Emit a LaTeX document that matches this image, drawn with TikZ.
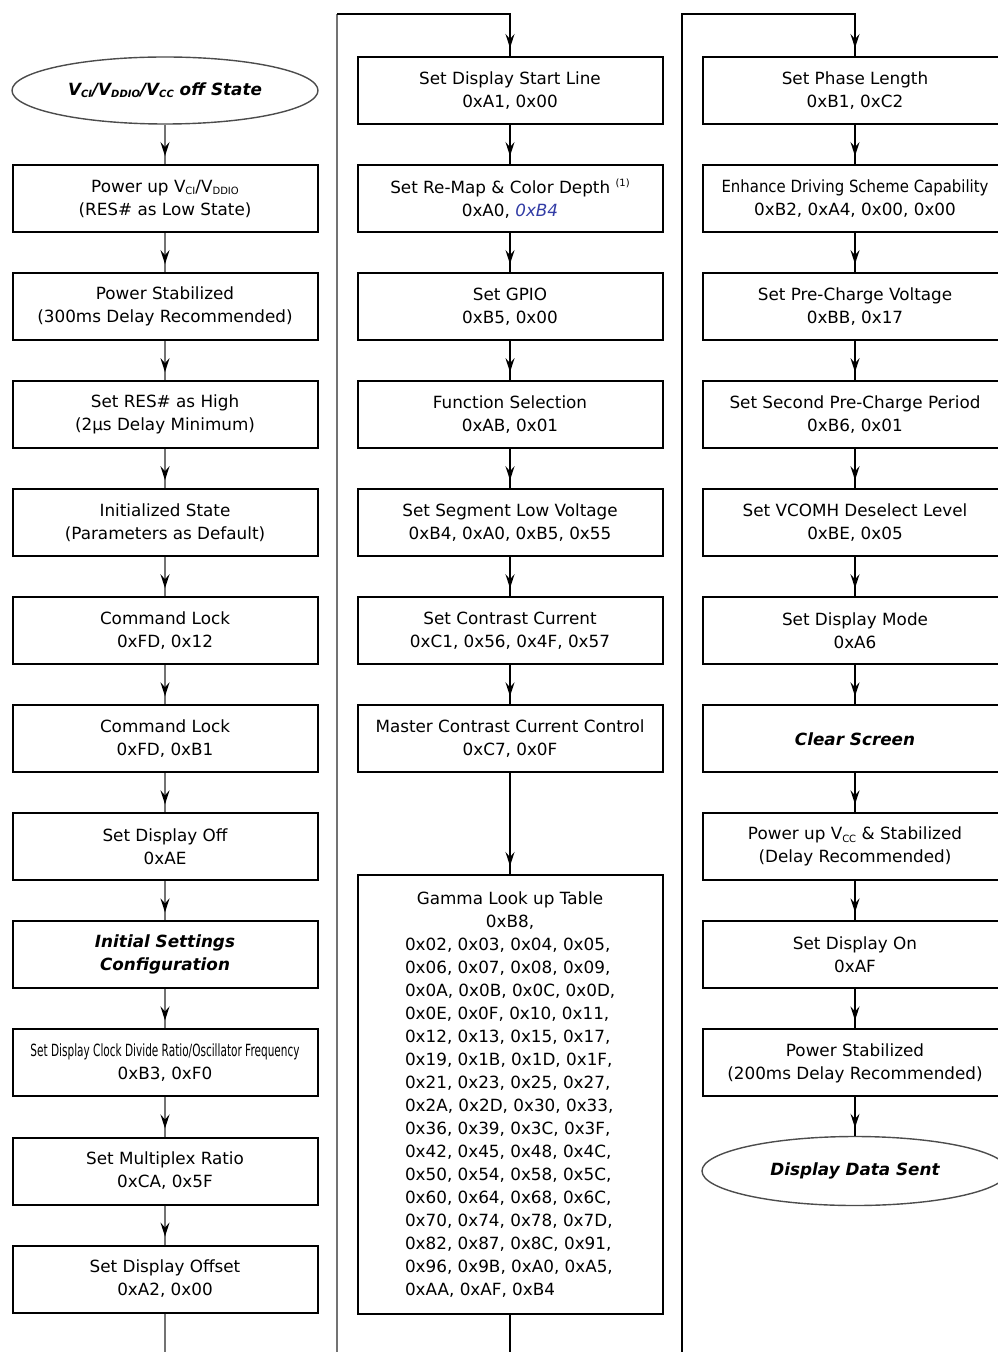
\documentclass[tikz,border=0pt]{standalone}
\usepackage{fontspec}
\setmainfont{DejaVu Sans}
\usepackage{graphicx}
\usetikzlibrary{shapes.geometric,arrows.meta,decorations.markings}
\definecolor{bleuremap}{RGB}{50,60,165}
% V avec indice minuscule
\newcommand{\vsb}[1]{V\raisebox{-0.25ex}{\fontsize{5}{5}\selectfont #1}}
% ligne de la table gamma, alignee a gauche
\newcommand{\gl}[1]{\makebox[105pt][l]{#1}}

\begin{document}
\begin{tikzpicture}[x=0.5pt,y=-0.5pt,
    blk/.style={draw,line width=1pt,minimum width=152.5pt,minimum height=33.5pt,
        inner sep=0pt,align=center,font=\fontsize{8.4}{11.5}\selectfont},
    blkgras/.style={blk,font=\fontsize{8.4}{11.5}\selectfont\bfseries\itshape},
    term/.style={draw=black!70,line width=0.7pt,ellipse,minimum width=153pt,
        minimum height=33.5pt,inner sep=0pt,font=\fontsize{8.4}{11.5}\selectfont\bfseries\itshape},
    flowline/.style={line width=0.8pt,postaction={decorate},decoration={markings,
        mark=at position -4pt with {\arrow{Stealth[length=7pt,width=4.5pt,inset=2.5pt,color=black]}}}},
    flowgris/.style={flowline,draw=black!55},
]
    \def\ya{90.5}   % premiere rangee
    \def\dy{108.05} % pas vertical
    \useasboundingbox (0,0) rectangle (997,1352);

    % Colonne 1
    \node[term] (a0) at (165,\ya) {\vsb{CI}/\vsb{DDIO}/\vsb{CC} off State};
    \node[blk] (a1) at (165,\ya+1*\dy) {Power up \vsb{CI}/\vsb{DDIO}\\(RES\# as Low State)};
    \node[blk] (a2) at (165,\ya+2*\dy) {Power Stabilized\\(300ms Delay Recommended)};
    \node[blk] (a3) at (165,\ya+3*\dy) {Set RES\# as High\\(2µs Delay Minimum)};
    \node[blk] (a4) at (165,\ya+4*\dy) {Initialized State\\(Parameters as Default)};
    \node[blk] (a5) at (165,\ya+5*\dy) {Command Lock\\0xFD, 0x12};
    \node[blk] (a6) at (165,\ya+6*\dy) {Command Lock\\0xFD, 0xB1};
    \node[blk] (a7) at (165,\ya+7*\dy) {Set Display Off\\0xAE};
    \node[blkgras] (a8) at (165,\ya+8*\dy) {Initial Settings\\Configuration};
    \node[blk] (a9) at (165,\ya+9*\dy) {\resizebox{134.5pt}{\height}{Set Display Clock Divide Ratio/Oscillator Frequency}\\0xB3, 0xF0};
    \node[blk] (a10) at (165,\ya+10*\dy) {Set Multiplex Ratio\\0xCA, 0x5F};
    \node[blk] (a11) at (165,\ya+11*\dy) {Set Display Offset\\0xA2, 0x00};

    % Colonne 2
    \node[blk] (b0) at (510,\ya) {Set Display Start Line\\0xA1, 0x00};
    \node[blk] (b1) at (510,\ya+1*\dy) {Set Re-Map \& Color Depth \raisebox{0.8ex}{\fontsize{5}{5}\selectfont(1)}\\0xA0, {\color{bleuremap}\itshape 0xB4}};
    \node[blk] (b2) at (510,\ya+2*\dy) {Set GPIO\\0xB5, 0x00};
    \node[blk] (b3) at (510,\ya+3*\dy) {Function Selection\\0xAB, 0x01};
    \node[blk] (b4) at (510,\ya+4*\dy) {Set Segment Low Voltage\\0xB4, 0xA0, 0xB5, 0x55};
    \node[blk] (b5) at (510,\ya+5*\dy) {Set Contrast Current\\0xC1, 0x56, 0x4F, 0x57};
    \node[blk] (b6) at (510,\ya+6*\dy) {Master Contrast Current Control\\0xC7, 0x0F};
    \node[blk,minimum height=219.5pt] (b7) at (510,1094.5) {Gamma Look up Table\\0xB8,\\
        \gl{0x02, 0x03, 0x04, 0x05,}\\\gl{0x06, 0x07, 0x08, 0x09,}\\
        \gl{0x0A, 0x0B, 0x0C, 0x0D,}\\\gl{0x0E, 0x0F, 0x10, 0x11,}\\
        \gl{0x12, 0x13, 0x15, 0x17,}\\\gl{0x19, 0x1B, 0x1D, 0x1F,}\\
        \gl{0x21, 0x23, 0x25, 0x27,}\\\gl{0x2A, 0x2D, 0x30, 0x33,}\\
        \gl{0x36, 0x39, 0x3C, 0x3F,}\\\gl{0x42, 0x45, 0x48, 0x4C,}\\
        \gl{0x50, 0x54, 0x58, 0x5C,}\\\gl{0x60, 0x64, 0x68, 0x6C,}\\
        \gl{0x70, 0x74, 0x78, 0x7D,}\\\gl{0x82, 0x87, 0x8C, 0x91,}\\
        \gl{0x96, 0x9B, 0xA0, 0xA5,}\\\gl{0xAA, 0xAF, 0xB4}};

    % Colonne 3
    \node[blk] (c0) at (855,\ya) {Set Phase Length\\0xB1, 0xC2};
    \node[blk] (c1) at (855,\ya+1*\dy) {\resizebox{133.5pt}{\height}{Enhance Driving Scheme Capability}\\0xB2, 0xA4, 0x00, 0x00};
    \node[blk] (c2) at (855,\ya+2*\dy) {Set Pre-Charge Voltage\\0xBB, 0x17};
    \node[blk] (c3) at (855,\ya+3*\dy) {Set Second Pre-Charge Period\\0xB6, 0x01};
    \node[blk] (c4) at (855,\ya+4*\dy) {Set VCOMH Deselect Level\\0xBE, 0x05};
    \node[blk] (c5) at (855,\ya+5*\dy) {Set Display Mode\\0xA6};
    \node[blkgras] (c6) at (855,\ya+6*\dy) {Clear Screen};
    \node[blk] (c7) at (855,\ya+7*\dy) {Power up \vsb{CC} \& Stabilized\\(Delay Recommended)};
    \node[blk] (c8) at (855,\ya+8*\dy) {Set Display On\\0xAF};
    \node[blk] (c9) at (855,\ya+9*\dy) {Power Stabilized\\(200ms Delay Recommended)};
    \node[term,minimum height=34.5pt] (c10) at (855,\ya+10*\dy) {Display Data Sent};

    % Fleches dans chaque colonne
    \foreach \i [evaluate=\i as \j using int(\i+1)] in {0,...,10}
        \draw[flowgris] (a\i) -- (a\j);
    \foreach \i [evaluate=\i as \j using int(\i+1)] in {0,...,6}
        \draw[flowline] (b\i) -- (b\j);
    \foreach \i [evaluate=\i as \j using int(\i+1)] in {0,...,9}
        \draw[flowline] (c\i) -- (c\j);

    % Liaisons entre colonnes
    \coordinate (finA) at (165,1352);
    \coordinate (basB) at (337,1352);
    \coordinate (hautB) at (337,14);
    \coordinate (coinB) at (510,14);
    \coordinate (finB) at (510,1352);
    \coordinate (basC) at (682,1352);
    \coordinate (hautC) at (682,14);
    \coordinate (coinC) at (855,14);
    \draw[line width=0.8pt,black!55] (a11) -- (finA);
    \draw[line width=0.8pt,black!55] (basB) -- (hautB);
    \draw[flowline] (hautB) -- (coinB) -- (b0);
    \draw[line width=0.8pt] (b7) -- (finB);
    \draw[flowline] (basC) -- (hautC) -- (coinC) -- (c0);
\end{tikzpicture}
\end{document}
